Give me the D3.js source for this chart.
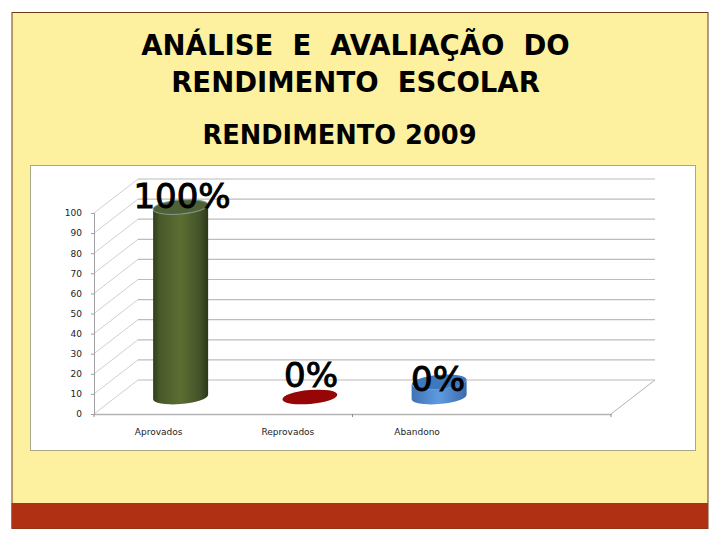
<!DOCTYPE html>
<html>
<head>
<meta charset="utf-8">
<style>
  html, body { margin: 0; padding: 0; background: #fff; }
  svg { display: block; }
  text { font-family: "DejaVu Sans", Verdana, sans-serif; }
</style>
</head>
<body>
<div id="chart"></div>
<script src="https://d3js.org/d3.v7.min.js"></script>
<script>
  const titleLines = ['ANÁLISE\u00a0 E\u00a0 AVALIAÇÃO\u00a0 DO', 'RENDIMENTO\u00a0 ESCOLAR'];
  const subtitle = 'RENDIMENTO 2009';
  const categories = ['Aprovados', 'Reprovados', 'Abandono', ''];
  const barValues = [94.5, 0, 7.5];
  const barLabels = ['100%', '0%', '0%'];
  const yTicks = [0, 10, 20, 30, 40, 50, 60, 70, 80, 90, 100];

  const svg = d3.select('#chart').append('svg')
    .attr('width', 720)
    .attr('height', 540);

  const defs = svg.append('defs');
  function sideGradient(id, stops) {
    const g = defs.append('linearGradient').attr('id', id);
    stops.forEach(s => g.append('stop').attr('offset', s[0]).attr('stop-color', s[1]));
  }
  sideGradient('green', [[0, '#2f3d1a'], [0.12, '#48592a'], [0.5, '#5c6f31'], [0.85, '#43532a'], [1, '#2b3818']]);
  sideGradient('red', [[0, '#7a0606'], [0.5, '#a00808'], [1, '#7a0606']]);
  sideGradient('blue', [[0, '#3f74b4'], [0.5, '#5f9ae0'], [1, '#3a6cab']]);
  const barFills = ['green', 'red', 'blue'];
  const barTops = ['#4f6136', '#970606', '#3f78bd'];

  // slide
  svg.append('rect').attr('x', 12).attr('y', 12.5).attr('width', 696).attr('height', 516)
     .attr('fill', '#fdf09e').attr('stroke', '#6e3c1c').attr('stroke-width', 1);
  svg.append('rect').attr('x', 11.5).attr('y', 503).attr('width', 696.5).attr('height', 25.5)
     .attr('fill', '#b03014');

  // titles
  svg.selectAll('.title').data(titleLines).enter().append('text')
     .attr('class', 'title')
     .attr('x', 355.5)
     .attr('y', (d, i) => 55 + i * 37)
     .attr('text-anchor', 'middle')
     .attr('font-size', 27.5)
     .attr('font-weight', 'bold')
     .attr('fill', '#000')
     .text(d => d);
  svg.append('text')
     .attr('x', 339.5).attr('y', 144)
     .attr('text-anchor', 'middle')
     .attr('font-size', 25.7)
     .attr('font-weight', 'bold')
     .text(subtitle);

  // white chart panel
  svg.append('rect').attr('x', 30.5).attr('y', 165.5).attr('width', 665).attr('height', 285)
     .attr('fill', '#fff').attr('stroke', '#a8a888').attr('stroke-width', 1);

  const x = d3.scaleBand().domain(categories).range([94, 611]);
  const y = d3.scaleLinear().domain([0, 100]).range([414, 213]);
  const depthX = 44, depthY = 34;

  // walls
  const grid = svg.append('g');
  grid.selectAll('.back').data(yTicks).enter().append('line')
      .attr('x1', 94 + depthX).attr('x2', 611 + depthX)
      .attr('y1', d => y(d) - depthY).attr('y2', d => y(d) - depthY)
      .attr('stroke', '#bcbcbc').attr('stroke-width', 1.2);
  grid.selectAll('.side').data(yTicks).enter().append('line')
      .attr('x1', 94).attr('x2', 94 + depthX)
      .attr('y1', d => y(d)).attr('y2', d => y(d) - depthY)
      .attr('stroke', '#d0d0d0').attr('stroke-width', 1);
  grid.append('line').attr('x1', 611).attr('x2', 611 + depthX)
      .attr('y1', y(0)).attr('y2', y(0) - depthY)
      .attr('stroke', '#b4b4b4');

  // axes
  const yAxis = svg.append('g').attr('transform', 'translate(94,0)')
    .call(d3.axisLeft(y).tickValues(yTicks).tickSize(3).tickPadding(9));
  const xAxis = svg.append('g').attr('transform', 'translate(0,414)')
    .call(d3.axisBottom(x).tickSize(0).tickPadding(15));
  yAxis.selectAll('line, path').attr('stroke', '#a0a0a0');
  xAxis.selectAll('path').attr('stroke', '#b4b4b4').attr('stroke-width', 1.5);
  svg.selectAll('.tick text').attr('font-family', '"DejaVu Sans"').attr('font-size', 9).attr('fill', '#222');
  svg.append('g').selectAll('line').data([0, 2, 4]).enter().append('line')
     .attr('x1', d => 94 + d * x.step()).attr('x2', d => 94 + d * x.step())
     .attr('y1', 414).attr('y2', 417).attr('stroke', '#8c8c8c');

  // cylinders
  const rx = 27.5, ry = 7, tilt = 2.2;
  const bars = svg.append('g').selectAll('g').data(barValues).enter().append('g');
  const cx = (d, i) => x(categories[i]) + x.bandwidth() / 2 + depthX / 2;
  const base = y(0) - depthY / 2;
  const barTop = d => base - (y(0) - y(d));
  bars.append('path')
      .attr('d', (d, i) => {
        const c = cx(d, i);
        return `M${c - rx},${barTop(d) + tilt}A${rx},${ry} -5 0 0 ${c + rx},${barTop(d) - tilt}` +
               `L${c + rx},${base - tilt}A${rx},${ry} -5 0 1 ${c - rx},${base + tilt}Z`;
      })
      .attr('fill', (d, i) => `url(#${barFills[i]})`);
  bars.append('ellipse')
      .attr('cx', cx).attr('cy', barTop)
      .attr('rx', rx).attr('ry', ry)
      .attr('transform', (d, i) => `rotate(-5 ${cx(d, i)} ${barTop(d)})`)
      .attr('fill', (d, i) => barTops[i])
      .attr('stroke', (d, i) => i === 0 ? '#7f9488' : 'none')
      .attr('stroke-width', 1);

  // big labels
  const labelPos = [[182, 208], [311, 387], [438, 391]];
  svg.append('g').selectAll('text').data(barLabels).enter().append('text')
     .attr('x', (d, i) => labelPos[i][0])
     .attr('y', (d, i) => labelPos[i][1])
     .attr('text-anchor', 'middle')
     .attr('font-size', 34)
     .attr('fill', '#000')
     .attr('stroke', '#000')
     .attr('stroke-width', 1)
     .text(d => d);
</script>
</body>
</html>
